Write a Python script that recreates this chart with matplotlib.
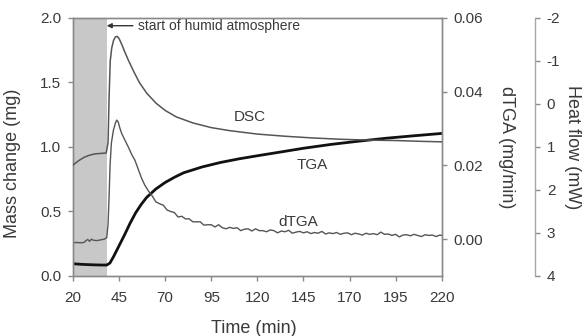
import matplotlib
matplotlib.use("Agg")
import matplotlib.pyplot as plt

plt.rcParams['font.family'] = ['Liberation Sans', 'DejaVu Sans']
plt.rcParams['axes.unicode_minus'] = False

# TGA (mass change, mg)
tga_time = [20, 25, 30, 35, 38.3, 40, 42, 45, 48, 51, 54, 57, 60, 65, 70, 75, 80, 90,
            100, 110, 120, 130, 145, 160, 175, 190, 205, 220]
tga_mass = [0.095, 0.09, 0.087, 0.085, 0.085, 0.10, 0.15, 0.235, 0.32, 0.41, 0.49, 0.555,
            0.61, 0.675, 0.725, 0.765, 0.80, 0.845, 0.88, 0.908, 0.932, 0.955, 0.99, 1.02,
            1.045, 1.068, 1.087, 1.105]

# DSC (heat flow, mW)
dsc_time = [20, 23, 26, 29, 32, 35, 38, 39, 39.6, 40.2, 41, 42, 43, 44, 45, 46.5, 48, 50,
            53, 56, 60, 65, 70, 76, 85, 95, 105, 120, 135, 150, 165, 180, 195, 210, 220]
dsc_heat = [1.42, 1.32, 1.24, 1.19, 1.16, 1.15, 1.14, 0.9, -0.2, -1.0, -1.3, -1.48, -1.56,
            -1.57, -1.52, -1.38, -1.22, -1.02, -0.75, -0.50, -0.25, -0.02, 0.15, 0.30, 0.44,
            0.55, 0.62, 0.70, 0.75, 0.79, 0.82, 0.84, 0.85, 0.87, 0.88]

# dTGA (mg/min)
dtga_time = [20, 22, 24, 26, 27, 28, 29, 30, 31, 33, 35, 37, 38.3, 39, 39.6, 40.1, 40.8,
             41.9, 43, 43.7, 44.5, 45.5, 46.4, 48, 50, 52, 53.6, 55.5, 57.3, 59, 61,
             63, 65, 67, 69, 71, 73, 75, 77, 79, 81, 83, 85, 87, 89, 91, 93, 95, 97, 99, 101,
             103, 105, 107, 109, 111, 113, 115, 117, 119, 121, 123, 125, 127, 129, 131, 133,
             135, 137, 139, 141, 143, 145, 147, 149, 151, 153, 155, 157, 159, 161, 163, 165,
             167, 169, 171, 173, 175, 177, 179, 181, 183, 185, 187, 189, 191, 193, 195, 197,
             199, 201, 203, 205, 207, 209, 211, 213, 215, 217, 219, 220]
dtga_rate = [-0.0010, -0.0009, -0.0010, -0.0009, -0.0004, -0.0001, -0.0006, 0.0, -0.0003,
             -0.0004, -0.0002, 0.0, 0.0004, 0.004, 0.012, 0.020, 0.026, 0.0295, 0.0315,
             0.0323, 0.0318, 0.030, 0.0287, 0.027, 0.025, 0.0228, 0.0214, 0.0188, 0.0164,
             0.0146, 0.0130,
             0.0117, 0.0101, 0.0096, 0.0092, 0.0079, 0.0075, 0.0072, 0.0060, 0.0062, 0.0055,
             0.0055, 0.0047, 0.0047, 0.0047, 0.0038, 0.0039, 0.0039, 0.0033, 0.0039, 0.0031,
             0.0028, 0.0032, 0.0029, 0.0031, 0.0023, 0.0027, 0.0028, 0.0022, 0.0028, 0.0023,
             0.0023, 0.0020, 0.0025, 0.0023, 0.0017, 0.0022, 0.0020, 0.0024, 0.0016, 0.0019,
             0.0021, 0.0017, 0.0020, 0.0015, 0.0018, 0.0016, 0.0021, 0.0014, 0.0017, 0.0015,
             0.0018, 0.0013, 0.0016, 0.0017, 0.0012, 0.0016, 0.0014, 0.0011, 0.0016, 0.0013,
             0.0015, 0.0012, 0.0019, 0.0013, 0.0014, 0.0010, 0.0013, 0.0006, 0.0011, 0.0012,
             0.0009, 0.0013, 0.0010, 0.0007, 0.0012, 0.0010, 0.0011, 0.0007, 0.0011, 0.0010]

x_ticks = [20, 45, 70, 95, 120, 145, 170, 195, 220]
mass_ticks = [0.0, 0.5, 1.0, 1.5, 2.0]
dtga_ticks = [0.00, 0.02, 0.04, 0.06]
heat_ticks = [-2, -1, 0, 1, 2, 3, 4]

txt = '#3a3a3a'
spine_c = '#8a8a8a'
line_c = '#555555'

fig = plt.figure(figsize=(5.85, 3.36), dpi=100)
ax = fig.add_axes([0.1248, 0.1786, 0.6302, 0.7679])
ax2 = ax.twinx()
ax3 = ax.twinx()

ax.axvspan(20, 38.2, color='#c8c8c8', lw=0, zorder=0)
ax.plot(tga_time, tga_mass, color='#111111', lw=2.0)
ax2.plot(dtga_time, dtga_rate, color=line_c, lw=1.0)
ax3.plot(dsc_time, dsc_heat, color=line_c, lw=1.1)

ax.set_xlim(20, 220)
ax.set_ylim(0, 2.0)
ax2.set_ylim(-0.01, 0.06)
ax3.set_ylim(4, -2)

ax.set_xticks(x_ticks)
ax.set_yticks(mass_ticks)
ax.set_yticklabels(['%.1f' % v for v in mass_ticks])
ax2.set_yticks(dtga_ticks)
ax2.set_yticklabels(['%.2f' % v for v in dtga_ticks])
ax3.set_yticks(heat_ticks)
ax3.set_yticklabels([str(v) for v in heat_ticks])

for a in (ax, ax2, ax3):
    for s in a.spines.values():
        s.set_color(spine_c)
        s.set_linewidth(1.0)
    a.tick_params(colors=spine_c, labelcolor=txt, labelsize=11, length=3.5, width=1.0, pad=5)
ax.tick_params(axis='x', pad=7)

ax3.spines['right'].set_position(('axes', 1.253))
ax3.spines['right'].set_color('#a8a8a8')
for k in ('left', 'top', 'bottom'):
    ax3.spines[k].set_visible(False)

ax.set_xlabel('Time (min)', fontsize=13, color=txt)
ax.xaxis.set_label_coords(0.49, -0.17)
ax.set_ylabel('Mass change (mg)', fontsize=13, color=txt)
ax.yaxis.set_label_coords(-0.142, 0.435)
ax2.set_ylabel('dTGA (mg/min)', fontsize=13, color=txt, rotation=270, va='center')
ax2.yaxis.set_label_coords(1.176, 0.5)
ax3.set_ylabel('Heat flow (mW)', fontsize=13, color=txt, rotation=270, va='center')
ax3.yaxis.set_label_coords(1.355, 0.5)

ax.annotate('', xy=(38.3, 1.94), xytext=(52.5, 1.94),
            arrowprops=dict(arrowstyle='-|>', color='#333333', lw=1.0,
                            mutation_scale=7, shrinkA=0, shrinkB=0))
ax.text(55.5, 1.94, 'start of humid atmosphere', fontsize=10, color=txt, va='center')

ax.text(116, 1.23, 'DSC', fontsize=11, color=txt, ha='center', va='center')
ax.text(150, 0.86, 'TGA', fontsize=11, color=txt, ha='center', va='center')
ax.text(142, 0.42, 'dTGA', fontsize=11, color=txt, ha='center', va='center')

fig.savefig('out.png', dpi=100)
